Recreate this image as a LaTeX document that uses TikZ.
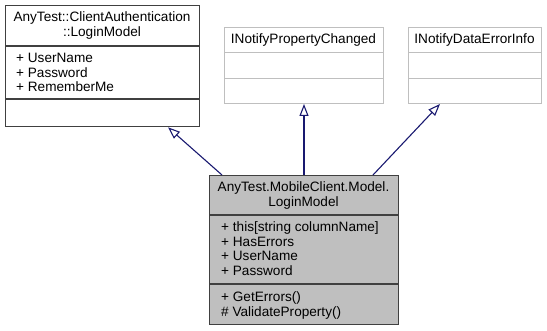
\documentclass[tikz,border=0pt]{standalone}
\usepackage{fontspec}
\setmainfont{Liberation Sans}
\usetikzlibrary{arrows.meta}
\definecolor{edgeblue}{HTML}{191970}
\definecolor{darkline}{HTML}{404040}
\definecolor{lightline}{HTML}{BFBFBF}
\definecolor{fillgrey}{HTML}{BFBFBF}
\begin{document}
\begin{tikzpicture}[x=1pt,y=-1pt,
  classbox/.style={draw=darkline, line width=1.3pt, fill=white, inner sep=0pt, anchor=north west},
  ifacebox/.style={draw=lightline, line width=1pt, fill=white, inner sep=0pt, anchor=north west},
  mainbox/.style={draw=darkline, line width=1.3pt, fill=fillgrey, inner sep=0pt, anchor=north west},
  darksep/.style={draw=darkline, line width=1.3pt},
  lightsep/.style={draw=lightline, line width=1pt},
  title/.style={inner sep=0pt, align=center, font=\fontsize{13.6}{15}\selectfont},
  member/.style={inner sep=0pt, anchor=base west, font=\fontsize{13.6}{15}\selectfont},
  inherit/.style={draw=edgeblue, line width=1.1pt, -{Triangle[open, length=12pt, width=9pt, line width=1.1pt]}}
]
\useasboundingbox (0,0) rectangle (547,331);

% base class
\node[classbox, minimum width=194pt, minimum height=121pt] (base) at (5,5) {};
\draw[darksep] (5,46) -- (199,46);
\draw[darksep] (5,99) -- (199,99);
\node[title] (basetitle) at (102,25.5) {AnyTest::ClientAuthentication\\::LoginModel};
\node[member] (b1) at (16,63) {+ UserName};
\node[member] (b2) at (16,77.5) {+ Password};
\node[member] (b3) at (16,92) {+ RememberMe};

% interfaces
\node[ifacebox, minimum width=159pt, minimum height=76pt] (ifpc) at (224,27) {};
\draw[lightsep] (224,53) -- (383,53);
\draw[lightsep] (224,79) -- (383,79);
\node[title] (ifpctitle) at (303.5,40) {INotifyPropertyChanged};

\node[ifacebox, minimum width=133pt, minimum height=76pt] (idei) at (408,27) {};
\draw[lightsep] (408,53) -- (541,53);
\draw[lightsep] (408,79) -- (541,79);
\node[title] (ideititle) at (474.5,40) {INotifyDataErrorInfo};

% derived class
\node[mainbox, minimum width=189pt, minimum height=149pt] (derived) at (209,175) {};
\draw[darksep] (209,215) -- (398,215);
\draw[darksep] (209,284) -- (398,284);
\node[title] (dertitle) at (303.5,195) {AnyTest.MobileClient.Model.\\LoginModel};
\node[member] (d1) at (221,232) {+ this[string columnName]};
\node[member] (d2) at (221,246.5) {+ HasErrors};
\node[member] (d3) at (221,261) {+ UserName};
\node[member] (d4) at (221,275.5) {+ Password};
\node[member] (d5) at (221,302) {+ GetErrors()};
\node[member] (d6) at (221,316.5) {\# ValidateProperty()};

% generalisation edges
\draw[inherit] ([xshift=13pt]derived.north west) -- ([xshift=163pt]base.south west);
\draw[inherit] (derived.north -| ifpc.south) -- (ifpc.south);
\draw[inherit] ([xshift=164pt]derived.north west) -- ([xshift=32pt]idei.south west);
\end{tikzpicture}
\end{document}
